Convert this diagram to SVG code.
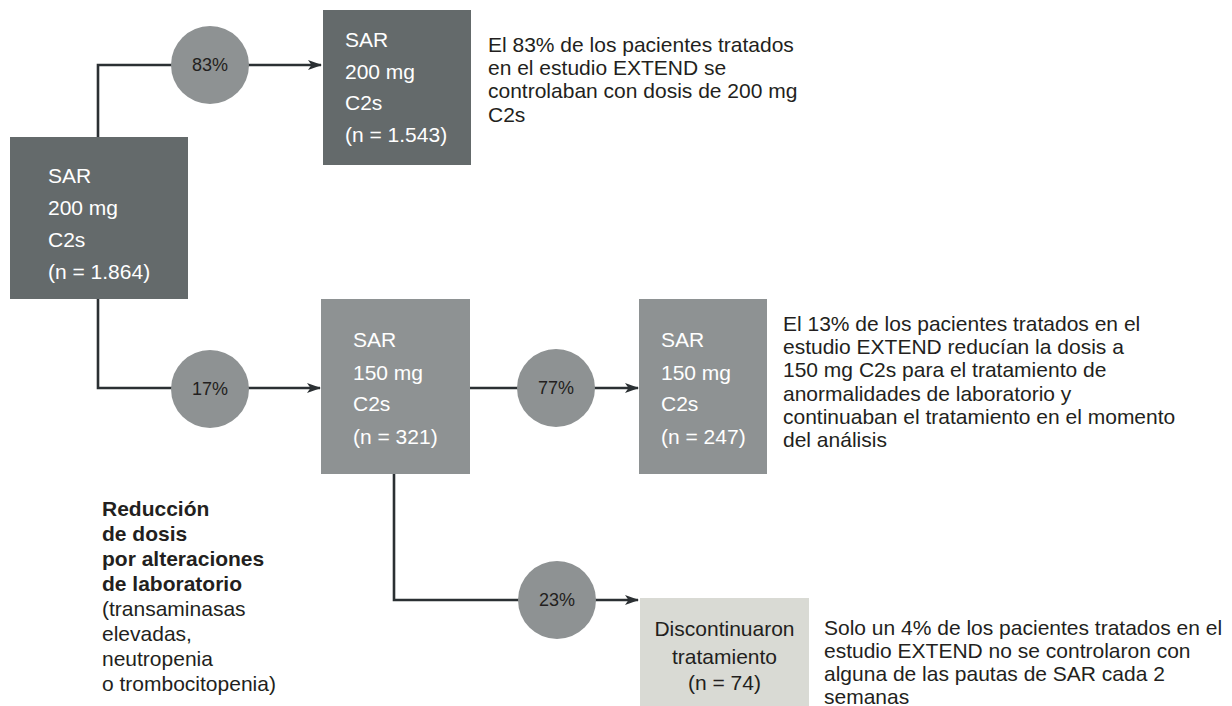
<svg xmlns="http://www.w3.org/2000/svg" width="1232" height="706" viewBox="0 0 1232 706">
<defs>
<style>
text{font-family:"Liberation Sans",Arial,sans-serif;}
.t{font-size:21px;fill:#ffffff;}
.pct{font-size:18px;fill:#231f20;text-anchor:middle;}
.note{font-size:21px;fill:#231f20;}
.dark{fill:#646a6b;}
.mid{fill:#8e9293;}
.light{fill:#d9dad4;}
.conn{fill:none;stroke:#2b3033;stroke-width:2.6;}
</style>
<marker id="arr" viewBox="0 0 14 10" refX="13" refY="5" markerWidth="14" markerHeight="10" markerUnits="userSpaceOnUse" orient="auto">
<path d="M0,0 L14,5 L0,10 L3.5,5 Z" fill="#2b3033"/>
</marker>
</defs>
<rect width="1232" height="706" fill="#ffffff"/>
<g id="connectors">
<path class="conn" d="M98,137 V65 H321" marker-end="url(#arr)"/>
<path class="conn" d="M98,299 V388 H320" marker-end="url(#arr)"/>
<path class="conn" d="M470,388 H638" marker-end="url(#arr)"/>
<path class="conn" d="M394,474 V600 H638" marker-end="url(#arr)"/>
</g>
<g id="pct83"><circle class="mid" cx="210" cy="65" r="39"/><text class="pct" x="210" y="71">83%</text></g>
<g id="pct17"><circle class="mid" cx="210" cy="389" r="39"/><text class="pct" x="210" y="395">17%</text></g>
<g id="pct77"><circle class="mid" cx="556" cy="388" r="39"/><text class="pct" x="556" y="394">77%</text></g>
<g id="pct23"><circle class="mid" cx="557" cy="600" r="39"/><text class="pct" x="557" y="606">23%</text></g>
<g id="sar200_start">
<rect class="dark" x="10" y="137" width="178" height="162"/>
<text class="t" x="48" y="183">SAR</text>
<text class="t" x="48" y="215">200 mg</text>
<text class="t" x="48" y="247">C2s</text>
<text class="t" x="48" y="279">(n = 1.864)</text>
</g>
<g id="sar200">
<rect class="dark" x="323" y="10" width="148" height="155"/>
<text class="t" x="345" y="47">SAR</text>
<text class="t" x="345" y="79">200 mg</text>
<text class="t" x="345" y="110">C2s</text>
<text class="t" x="345" y="142">(n = 1.543)</text>
</g>
<g id="sar150_321">
<rect class="mid" x="321" y="299" width="149" height="175"/>
<text class="t" x="353" y="347">SAR</text>
<text class="t" x="353" y="380">150 mg</text>
<text class="t" x="353" y="411">C2s</text>
<text class="t" x="353" y="444">(n = 321)</text>
</g>
<g id="sar150_247">
<rect class="mid" x="639" y="299" width="128" height="175"/>
<text class="t" x="661" y="347">SAR</text>
<text class="t" x="661" y="380">150 mg</text>
<text class="t" x="661" y="411">C2s</text>
<text class="t" x="661" y="444">(n = 247)</text>
</g>
<g id="discontinuaron">
<rect class="light" x="640" y="598" width="169" height="108"/>
<text class="note" x="724.5" y="636" text-anchor="middle">Discontinuaron</text>
<text class="note" x="724.5" y="664" text-anchor="middle">tratamiento</text>
<text class="note" x="724.5" y="690" text-anchor="middle">(n = 74)</text>
</g>
<g id="note83">
<text class="note" x="488" y="52">El 83% de los pacientes tratados</text>
<text class="note" x="488" y="75">en el estudio EXTEND se</text>
<text class="note" x="488" y="98">controlaban con dosis de 200 mg</text>
<text class="note" x="488" y="122">C2s</text>
</g>
<g id="note13">
<text class="note" x="783" y="331">El 13% de los pacientes tratados en el</text>
<text class="note" x="783" y="354">estudio EXTEND reducían la dosis a</text>
<text class="note" x="783" y="377">150 mg C2s para el tratamiento de</text>
<text class="note" x="783" y="401">anormalidades de laboratorio y</text>
<text class="note" x="783" y="424">continuaban el tratamiento en el momento</text>
<text class="note" x="783" y="447">del análisis</text>
</g>
<g id="note4">
<text class="note" x="824" y="635">Solo un 4% de los pacientes tratados en el</text>
<text class="note" x="824" y="658">estudio EXTEND no se controlaron con</text>
<text class="note" x="824" y="681">alguna de las pautas de SAR cada 2</text>
<text class="note" x="824" y="704">semanas</text>
</g>
<g id="legend">
<text class="note" x="102" y="516" font-weight="bold">Reducción</text>
<text class="note" x="102" y="541" font-weight="bold">de dosis</text>
<text class="note" x="102" y="566" font-weight="bold">por alteraciones</text>
<text class="note" x="102" y="591" font-weight="bold">de laboratorio</text>
<text class="note" x="102" y="616">(transaminasas</text>
<text class="note" x="102" y="641">elevadas,</text>
<text class="note" x="102" y="666">neutropenia</text>
<text class="note" x="102" y="691">o trombocitopenia)</text>
</g>
</svg>
